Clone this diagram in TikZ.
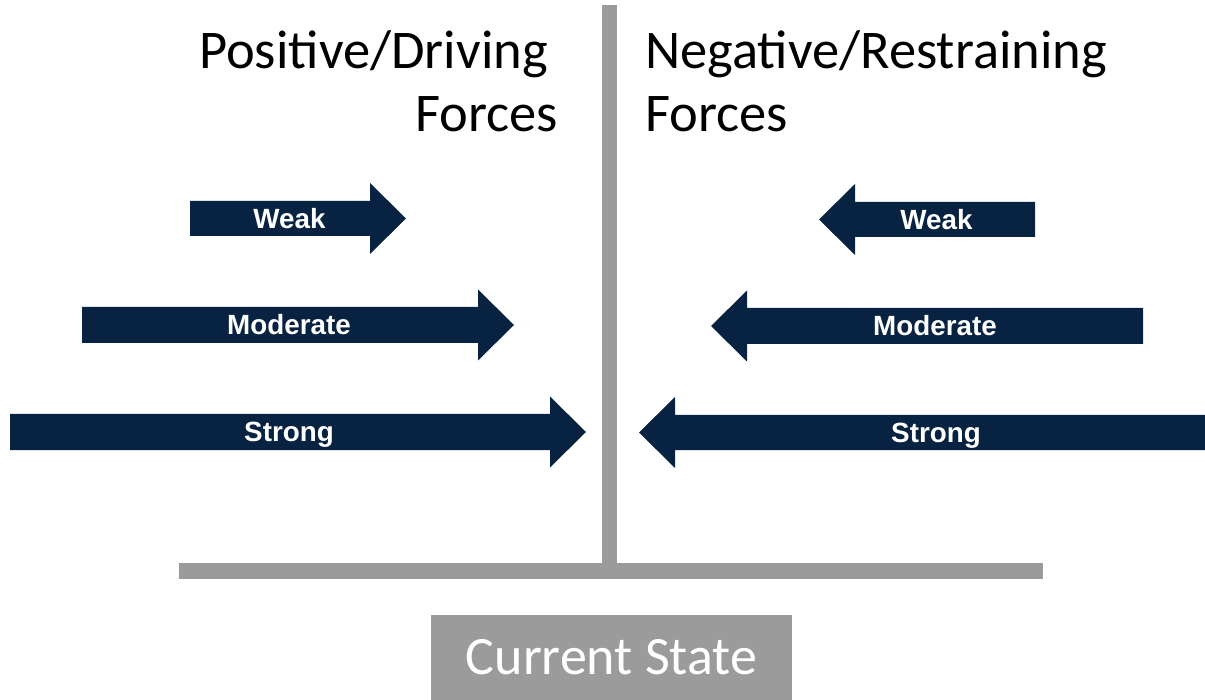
\documentclass[tikz,border=0pt]{standalone}
\usepackage{fontspec}
\setmainfont{Carlito}
\newfontfamily\arrowfont{Liberation Sans}
\definecolor{forcenavy}{RGB}{8,34,66}
\definecolor{bargray}{RGB}{155,155,155}

\begin{document}
\begin{tikzpicture}[
    x = 1pt, y = -1pt,
    force/.style = {fill = forcenavy},
    forcetext/.style = {font = \arrowfont\bfseries\fontsize{27.8}{28}\selectfont,
                        text = white, inner sep = 0pt, anchor = base},
    heading/.style = {font = \fontsize{54.5}{55}\selectfont, inner sep = 0pt}]

\useasboundingbox (0,0) rectangle (1205,700);

% divider and ground line
\fill[bargray] (602,5) rectangle (617,571);
\fill[bargray] (179,563) rectangle (1043,579);

% headings
\node[heading, anchor = base east] (posA) at (548,69) {Positive/Driving};
\node[heading, anchor = base east] (posB) at (558,132) {Forces};
\node[heading, anchor = base west] (negA) at (645,69) {Negative/Restraining};
\node[heading, anchor = base west] (negB) at (645,132) {Forces};

% driving forces (pointing right)
\fill[force] (190,201) -- (370,201) -- (370,183) -- (406,218.5) --
             (370,254) -- (370,236) -- (190,236) -- cycle;
\fill[force] (82,307) -- (478,307) -- (478,289.5) -- (514,325) --
             (478,360.5) -- (478,343) -- (82,343) -- cycle;
\fill[force] (10,414) -- (550,414) -- (550,396.5) -- (586,432) --
             (550,467.5) -- (550,450) -- (10,450) -- cycle;
\node[forcetext] (posWeak) at (289.5,228.5) {Weak};
\node[forcetext] (posModerate) at (289,335) {Moderate};
\node[forcetext] (posStrong) at (289,442) {Strong};

% restraining forces (pointing left)
\fill[force] (1035,202) -- (855,202) -- (855,184) -- (819,219.5) --
             (855,255) -- (855,237) -- (1035,237) -- cycle;
\fill[force] (1143,308) -- (747,308) -- (747,290.5) -- (711,326) --
             (747,361.5) -- (747,344) -- (1143,344) -- cycle;
\fill[force] (1205,415) -- (675,415) -- (675,397) -- (639,432.5) --
             (675,468) -- (675,450) -- (1205,450) -- cycle;
\node[forcetext] (negWeak) at (936.5,229.5) {Weak};
\node[forcetext] (negModerate) at (935,336) {Moderate};
\node[forcetext] (negStrong) at (936,442.5) {Strong};

% status box
\node[fill = bargray, text = white, minimum width = 361pt, minimum height = 85pt,
      inner sep = 0pt, font = \fontsize{54}{54}\selectfont] (state) at (611.5,657.5) {Current State};
\end{tikzpicture}
\end{document}
